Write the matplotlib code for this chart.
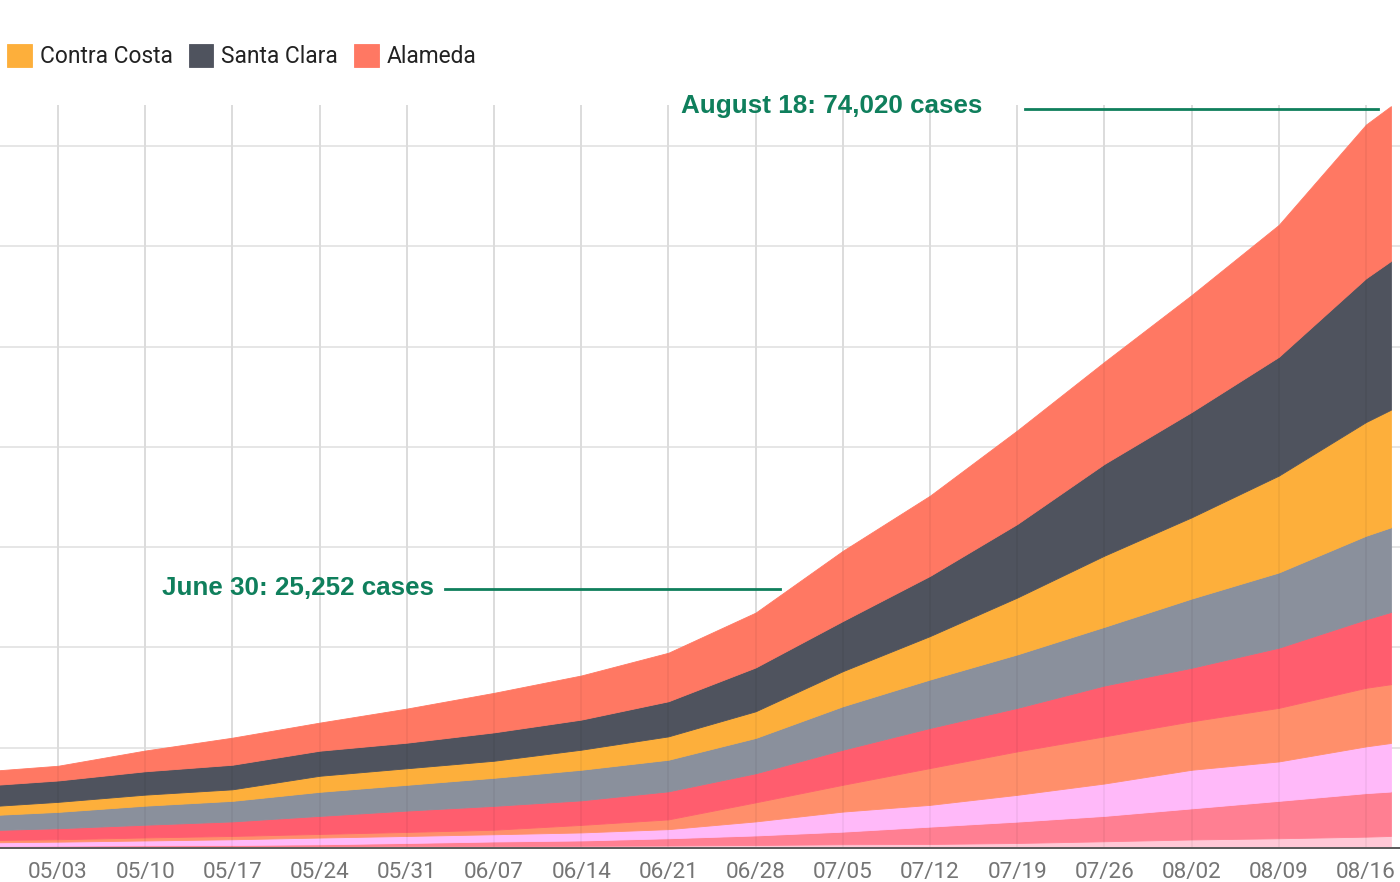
import matplotlib
matplotlib.use("Agg")
import matplotlib.pyplot as plt
import matplotlib.dates as mdates
from matplotlib.lines import Line2D
import numpy as np
import pandas as pd

# ---------------- data ----------------
dates = pd.to_datetime([
    "2020-04-28", "2020-05-03", "2020-05-10", "2020-05-17", "2020-05-24",
    "2020-05-31", "2020-06-07", "2020-06-14", "2020-06-21", "2020-06-28",
    "2020-07-05", "2020-07-12", "2020-07-19", "2020-07-26", "2020-08-02",
    "2020-08-09", "2020-08-16", "2020-08-18"])

napa          = [70, 70, 100, 100, 120, 180, 200, 220, 250, 300, 370, 400, 500, 670, 850, 970, 1130, 1200]
marin         = [130, 160, 170, 200, 250, 320, 450, 530, 720, 950, 1260, 1730, 2130, 2530, 3100, 3730, 4340, 4430]
sonoma        = [370, 400, 480, 570, 670, 700, 720, 800, 910, 1400, 2000, 2170, 2670, 3230, 3850, 3930, 4660, 4840]
solano        = [230, 240, 300, 330, 360, 400, 450, 750, 970, 1900, 2670, 3670, 4330, 4700, 4830, 5340, 5840, 5860]
san_mateo     = [1000, 1100, 1270, 1450, 1800, 2130, 2380, 2450, 2800, 2900, 3500, 4000, 4340, 5070, 5340, 6000, 6830, 7200]
san_francisco = [1500, 1630, 1900, 2050, 2400, 2570, 2800, 3050, 3150, 3520, 4330, 4830, 5330, 5850, 6900, 7500, 8330, 8440]
contra_costa  = [900, 1000, 1100, 1150, 1600, 1650, 1700, 2000, 2330, 2660, 3500, 4330, 5670, 7100, 8100, 9660, 11340, 11730]
santa_clara   = [2100, 2130, 2330, 2450, 2500, 2550, 2830, 3000, 3500, 4370, 5000, 6000, 7330, 9150, 10500, 11840, 14330, 14830]
alameda       = [1430, 1470, 2070, 2700, 2800, 3400, 3940, 4400, 4840, 5470, 7000, 8000, 9330, 10170, 11660, 13160, 15330, 15440]

series_names = ["Napa", "Marin", "Sonoma", "Solano", "San Mateo", "San Francisco",
                "Contra Costa", "Santa Clara", "Alameda"]
legend_names = ["Contra Costa", "Santa Clara", "Alameda"]

annotation_texts = ["June 30: 25,252 cases", "August 18: 74,020 cases"]

# ---------------- style ----------------
colors = ["#ffc8d6", "#ff7f92", "#ffb9f9", "#ff8f6b", "#ff5d6e",
          "#8a909c", "#fdaf3b", "#4f535e", "#ff7863"]
green = "#0f7f5c"

W, H = 1400, 882
fig = plt.figure(figsize=(W / 100, H / 100), dpi=100)
ax_bottom_px, ax_top_px = 848, 105
ax = fig.add_axes([0, (H - ax_bottom_px) / H, 1, (ax_bottom_px - ax_top_px) / H])

polys = ax.stackplot(dates, napa, marin, sonoma, solano, san_mateo, san_francisco,
                     contra_costa, santa_clara, alameda, colors=colors,
                     labels=series_names, zorder=2)
for p in polys:
    p.set_edgecolor(p.get_facecolor())
    p.set_linewidth(0.6)

# axis ranges: 05/03 at x=58 px, 08/16 at x=1366 px
d0 = mdates.date2num(pd.Timestamp("2020-05-03"))
d1 = mdates.date2num(pd.Timestamp("2020-08-16"))
ppd = (1366 - 58) / (d1 - d0)
ax.set_xlim(d0 - 58 / ppd, d1 + (W - 1366) / ppd)
ax.set_ylim(0, 74080)

# grid
ax.set_yticks(np.arange(0, 70001, 10000))
ax.yaxis.set_ticklabels([])
ax.tick_params(axis="y", length=0)
ax.set_axisbelow(True)
ax.grid(axis="both", color="#e6e6e6", linewidth=1.4)

ax.xaxis.set_major_locator(mdates.WeekdayLocator(byweekday=mdates.SU))
ax.xaxis.set_major_formatter(mdates.DateFormatter("%m/%d"))
ax.tick_params(axis="x", length=0, pad=10, labelsize=16.2, labelcolor="#757575")
for lab in ax.get_xticklabels():
    lab.set_fontfamily("Roboto")
# faint vertical grid showing through the areas
for t in ax.get_xticks():
    ax.axvline(t, color="black", alpha=0.045, linewidth=1.5, zorder=3)

for s in ["top", "right", "left"]:
    ax.spines[s].set_visible(False)
ax.spines["bottom"].set_color("#5a5a5a")
ax.spines["bottom"].set_linewidth(1.4)
ax.spines["bottom"].set_zorder(4)

# legend (only the visible last three entries)
handles = [polys[series_names.index(n)] for n in legend_names]
leg = fig.legend(handles, legend_names, loc="upper left",
                 bbox_to_anchor=(7 / W, 1 - 44 / H), ncol=3, frameon=False,
                 borderpad=0, borderaxespad=0, handlelength=1.09, handleheight=1.18,
                 handletextpad=0.35, columnspacing=0.7,
                 prop={"family": "Roboto", "size": 16.4})
for t in leg.get_texts():
    t.set_color("#222222")

# annotations
ann_font = {"family": "Liberation Sans", "weight": "bold", "size": 18.7}
fig.text(434 / W, 1 - 588 / H, annotation_texts[0], ha="right", va="center",
         color=green, **ann_font)
fig.add_artist(Line2D([445 / W, 780 / W], [1 - 589 / H] * 2, color=green, lw=2))
fig.text(982 / W, 1 - 106 / H, annotation_texts[1], ha="right", va="center",
         color=green, **ann_font)
fig.add_artist(Line2D([1025 / W, 1378 / W], [1 - 109 / H] * 2, color=green, lw=2))

fig.savefig("out.png", dpi=100, facecolor="white")
